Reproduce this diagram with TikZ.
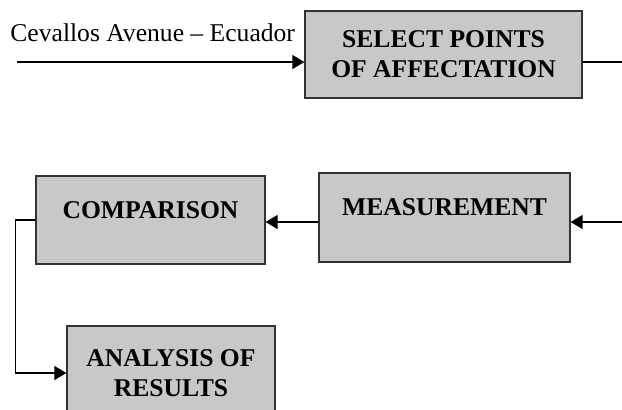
\documentclass[tikz,border=0pt]{standalone}
\usepackage{fontspec}
\setmainfont{Liberation Serif}
\usepackage{tikz}
\usetikzlibrary{arrows.meta, positioning}
\definecolor{boxgray}{RGB}{200,200,200}
\definecolor{edgegray}{RGB}{50,50,50}
\tikzstyle{block} = [rectangle, draw=edgegray, fill=boxgray, line width=0.6pt, text centered, align=center, font=\bfseries\fontsize{12.8}{15}\selectfont]
\tikzstyle{arrow} = [line width=0.6pt, ->, >={Triangle[length=6pt,width=7pt]}]

\begin{document}
\begin{tikzpicture}[x=0.5pt, y=-0.5pt]
\clip (0,0) rectangle (622,409);

\node (sel) [block, minimum width=138.5pt, minimum height=43.5pt] at (443.5,54.5) {SELECT POINTS\\OF AFFECTATION};
\node (meas) [block, minimum width=125.5pt, minimum height=44.5pt, text depth=10.5pt] at (444.5,217.5) {MEASUREMENT};
\node (comp) [block, minimum width=114.5pt, minimum height=44pt, text depth=10pt] at (150.5,220) {COMPARISON};
\node (anal) [block, minimum width=104pt, minimum height=47pt] at (171,373) {ANALYSIS OF\\RESULTS};

\node (place) [anchor=west, inner sep=0pt, font=\fontsize{12.8}{15}\selectfont] at (10,33) {Cevallos Avenue -- Ecuador};

\coordinate (start) at (17,62);
\coordinate (selout) at (622,62);
\coordinate (measin) at (622,222);

\draw [arrow] (start) -- (start -| sel.west);
\draw [line width=0.6pt] (sel.east |- selout) -- (selout);
\draw [arrow] (measin) -- (measin -| meas.east);
\draw [arrow] (measin -| meas.west) -- (measin -| comp.east);
\draw [arrow] (comp.west) -- ++(-20,0) |- (anal.west);

\end{tikzpicture}
\end{document}
